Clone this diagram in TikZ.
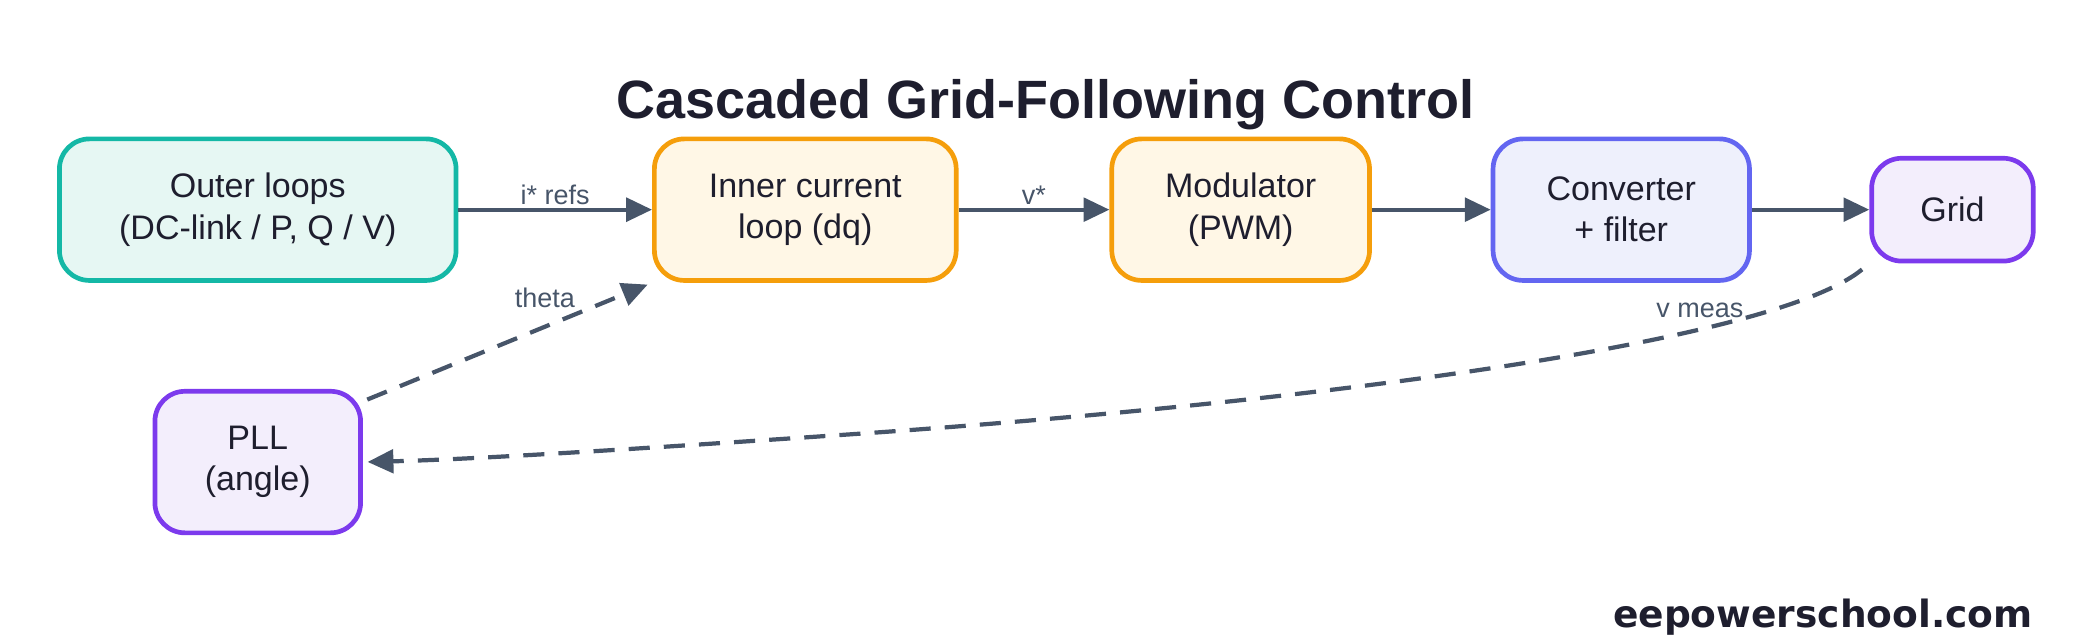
\documentclass[tikz,border=0pt]{standalone}
\usepackage{fontspec}
\setmainfont{Liberation Sans}
\newfontfamily\sitefont{DejaVu Sans}
\usetikzlibrary{arrows.meta,positioning}
\definecolor{edgegray}{HTML}{475569}
\definecolor{titleink}{HTML}{1E1E2E}
\definecolor{tealline}{HTML}{14B8A6}
\definecolor{tealfill}{HTML}{E6F7F3}
\definecolor{amberline}{HTML}{F59E0B}
\definecolor{amberfill}{HTML}{FFF7E6}
\definecolor{indigoline}{HTML}{6366F1}
\definecolor{indigofill}{HTML}{EEF0FC}
\definecolor{violetline}{HTML}{7C3AED}
\definecolor{violetfill}{HTML}{F3EEFC}
\begin{document}
\begin{tikzpicture}[x=0.02cm,y=-0.02cm,
    box/.style={rounded corners=0.45cm,line width=2pt,align=center,font=\fontsize{14.5}{17.5}\selectfont,text=titleink},
    flow/.style={draw=edgegray,line width=1.8pt,-{Triangle[length=11pt,width=10pt]}},
    lbl/.style={font=\fontsize{11.5}{13}\selectfont,text=edgegray}]
      \useasboundingbox (0,0) rectangle (1568,477);
      \node[font=\bfseries\fontsize{23}{27}\selectfont,text=titleink] (title) at (783,78) {Cascaded Grid-Following Control};
      \begin{scope}[every node/.style={box}]
        \node (outer)[draw=tealline,fill=tealfill,minimum width=297*0.02cm,minimum height=106*0.02cm] at (193,157) {Outer loops\\(DC-link / P, Q / V)};
        \node (inner)[draw=amberline,fill=amberfill,minimum width=226*0.02cm,minimum height=106*0.02cm] at (603,157) {Inner current\\loop (dq)};
        \node (mod)[draw=amberline,fill=amberfill,minimum width=193*0.02cm,minimum height=106*0.02cm] at (929,157) {Modulator\\(PWM)};
        \node (conv)[draw=indigoline,fill=indigofill,minimum width=192*0.02cm,minimum height=106*0.02cm] at (1214,157) {Converter\\+ filter};
        \node (grid)[draw=violetline,fill=violetfill,minimum width=121*0.02cm,minimum height=77*0.02cm] at (1462,157) {Grid};
        \node (pll)[draw=violetline,fill=violetfill,minimum width=154*0.02cm,minimum height=106*0.02cm] at (193,346) {PLL\\(angle)};
      \end{scope}
      \path[flow] (outer) -- node[lbl,above=-2pt] {i* refs} (inner);
      \path[flow] (inner) -- node[lbl,above=-2pt] {v*} (mod);
      \path[flow] (mod) -- (conv);
      \path[flow] (conv) -- (grid);
      \path[flow,dashed,dash pattern=on 9pt off 6pt,shorten >=2pt,shorten <=2pt] (pll.30) -- node[lbl,pos=0.75,above left=-3pt] {theta} (inner.south west);
      \path[flow,dashed,dash pattern=on 9pt off 6pt,shorten >=2pt,shorten <=4pt] (grid.south west) .. controls (1330,255) and (1000,300) .. node[lbl,pos=0.3,above=0pt] {v meas} (640,325) .. controls (450,338) and (350,344) .. (pll.east);
      \node[font=\sitefont\bfseries\fontsize{16}{19}\selectfont,text=titleink] (site) at (1365,462) {eepowerschool.com};
    \end{tikzpicture}
\end{document}
